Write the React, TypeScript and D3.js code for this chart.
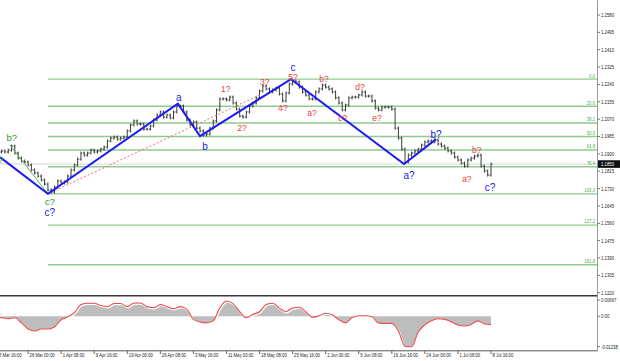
import React from "react";
import * as d3 from "d3";

// closes, one every ~2.6 H4 bars (10 per time label)
const closes = [
  1.1899, 1.1909, 1.1914, 1.1909, 1.1918, 1.1938, 1.1904, 1.1879, 1.1865, 1.186,
  1.1845, 1.1821, 1.1806, 1.1791, 1.1772, 1.1752, 1.1723, 1.1713, 1.1737, 1.1767,
  1.1757, 1.1762, 1.1791, 1.1821, 1.1845, 1.1874, 1.1904, 1.1894, 1.1904, 1.1918,
  1.1909, 1.1914, 1.1923, 1.1933, 1.1963, 1.1977, 1.1982, 1.1972, 1.1977, 1.1982,
  1.2012, 1.2041, 1.2061, 1.2046, 1.2046, 1.2021, 1.2021, 1.2036, 1.2066, 1.209,
  1.2105, 1.208, 1.209, 1.2076, 1.2105, 1.2134, 1.2134, 1.2105, 1.2066, 1.2041,
  1.2056, 1.2026, 1.2012, 1.1992, 1.1997, 1.2026, 1.2061, 1.2115, 1.2169, 1.2169,
  1.2164, 1.2178, 1.2149, 1.2119, 1.2085, 1.208, 1.2105, 1.2134, 1.2149, 1.2174,
  1.2208, 1.2232, 1.2218, 1.2203, 1.2213, 1.2222, 1.2193, 1.2159, 1.2198, 1.2242,
  1.2257, 1.2252, 1.2227, 1.2203, 1.2188, 1.2169, 1.2169, 1.2203, 1.2218, 1.2237,
  1.2227, 1.2218, 1.2203, 1.2174, 1.2149, 1.2115, 1.2139, 1.2174, 1.2178, 1.2178,
  1.2188, 1.2203, 1.2183, 1.2183, 1.2159, 1.2124, 1.2115, 1.2129, 1.2129, 1.2129,
  1.2119, 1.2026, 1.1977, 1.1923, 1.186, 1.1894, 1.1904, 1.1914, 1.1923, 1.1943,
  1.1958, 1.1963, 1.1958, 1.1968, 1.1948, 1.1938, 1.1928, 1.1914, 1.1904, 1.1884,
  1.187, 1.1855, 1.184, 1.187, 1.1879, 1.1889, 1.1894, 1.184, 1.1816, 1.1796,
  1.185,
];

// oscillator, one value every 2 points
const oscValues = [
  -0.00042, -0.00063, -0.00104, -0.00063, -0.00271, -0.00521, -0.00605, -0.00521, -0.00521, -0.00438,
  -0.00146, -0.00021, 0.00146, 0.0048, 0.00534, 0.00534, 0.00438, 0.00396, 0.00521, 0.00521,
  0.00396, 0.00542, 0.00542, 0.00396, 0.00354, 0.0048, 0.00396, 0.00313, 0.00396, 0.00292,
  -0.00125, -0.00229, -0.00271, -0.00188, 0.00354, 0.00626, 0.00521, 0.00188, -0.00063, 0.00083,
  0.00188, 0.0048, 0.00534, 0.00334, 0.00188, 0.00342, 0.00367, 0.00188, -0.00042, 0.00021,
  0.00125, 0.00063, -0.00146, -0.00271, -0.00063, 0.00021, 0.00021, -0.00021, -0.00271, -0.00292,
  -0.00292, -0.00605, -0.0123, -0.01251, -0.00646, -0.00354, -0.00188, -0.00104, -0.00125, -0.00229,
  -0.00354, -0.00396, -0.00334, -0.00188, -0.00313, -0.00334,
];

const timeLabels = [
  "18 Mar 16:00", "26 Mar 00:00", "1 Apr 08:00", "9 Apr 16:00", "19 Apr 00:00",
  "26 Apr 08:00", "3 May 16:00", "11 May 00:00", "18 May 08:00", "25 May 16:00",
  "2 Jun 00:00", "9 Jun 08:00", "16 Jun 16:00", "24 Jun 00:00", "1 Jul 08:00", "8 Jul 16:00",
];

const priceTicks = [
  1.258, 1.2495, 1.241, 1.2325, 1.224, 1.2155, 1.207, 1.1985, 1.19,
  1.1815, 1.173, 1.1645, 1.156, 1.1475, 1.139, 1.1305, 1.122,
];
const oscTicks = [0.00667, 0, -0.01238];
const oscTickLabels = ["0.00667", "0.00", "-0.01238"];

const fibHigh = 1.2266;
const fibLow = 1.1704;
const fibStart = 16;
const fibLevels = [0, 23.6, 38.2, 50, 61.8, 76.4, 100, 127.2, 161.8];
const lastPrice = 1.185;

// wave pivots [index, price]
const blueWave = [[1.5, 1.1884], [16, 1.1704], [55.3, 1.2146], [62, 1.1987], [89.5, 1.2266], [123.7, 1.185], [133.4, 1.1972]];
const greenWave = [[4.5, 1.1943], [16, 1.1704]];
const redDotted = [[16, 1.1704], [80.7, 1.2193]];

// labels [text, index, price]
const blueLabels = [["a", 55.6, 1.2178], ["b", 63.5, 1.1938], ["c", 90.1, 1.2325], ["a?", 125.2, 1.1796], ["b?", 133.4, 1.1997], ["c?", 149.7, 1.1737], ["c?", 16.6, 1.1615]];
const greenLabels = [["b?", 5.1, 1.1977], ["c?", 16.6, 1.1664], ["a?", 1.0, 1.187]];
const redLabels = [
  ["1?", 69.8, 1.2218], ["2?", 74.7, 1.2026], ["3?", 81.6, 1.2252], ["4?", 87.1, 1.2124], ["5?", 90.1, 1.2276],
  ["a?", 95.9, 1.21], ["b?", 99.5, 1.2267], ["c?", 105.2, 1.2075], ["d?", 110.4, 1.2227], ["e?", 115.5, 1.2075],
  ["a?", 142.7, 1.1777], ["b?", 145.7, 1.1918],
];

const W = 620;
const H = 361;
const axisX = 597.5;
const font = "Liberation Sans, Arial, sans-serif";

const Small = ({ x, y, anchor = "start", fill = "#222", children }: any) => (
  <text
    transform={`translate(${x},${y}) scale(0.76,1)`}
    textAnchor={anchor}
    fontSize={5.6}
    fontFamily={font}
    fill={fill}
  >
    {children}
  </text>
);

export default function App() {
  const x = d3.scaleLinear().domain([0, 150]).range([-5, 491]);
  const y = d3.scaleLinear().domain([1.122, 1.258]).range([292.7, 15]);
  const yo = d3.scaleLinear().domain([-0.01238, 0.00667]).range([346.5, 300]);

  const line = d3.line<number[]>().x(d => x(d[0])).y(d => y(d[1]));
  const oscLine = d3
    .line<number>()
    .x((d, i) => x(i * 2))
    .y(d => yo(d))
    .curve(d3.curveMonotoneX);
  const oscArea = d3
    .area<number>()
    .x((d, i) => x(i * 2))
    .y0(yo(0))
    .y1(d => yo(d))
    .curve(d3.curveMonotoneX);

  const range = fibHigh - fibLow;

  return (
    <svg
      width={W}
      height={H}
      viewBox={`0 0 ${W} ${H}`}
      style={{ position: "absolute", left: 0, top: 0, background: "#fff" }}
    >
      <defs>
        <clipPath id="main">
          <rect x={0} y={0} width={axisX} height={295} />
        </clipPath>
        <clipPath id="osc">
          <rect x={0} y={297} width={axisX} height={53} />
        </clipPath>
      </defs>

      <g clipPath="url(#main)">
        {/* bid line */}
        <line x1={0} x2={axisX} y1={y(lastPrice)} y2={y(lastPrice)} stroke="#d4d4d4" strokeWidth={1} />

        {/* fibonacci levels */}
        {fibLevels.map(l => {
          const yy = y(fibHigh - (l / 100) * range);
          return (
            <g key={l}>
              <line x1={x(fibStart)} x2={axisX} y1={yy} y2={yy} stroke="#8fcb8f" strokeWidth={1.4} />
              <Small x={595} y={yy - 1.6} anchor="end" fill="#4fa84f">
                {l.toFixed(1)}
              </Small>
            </g>
          );
        })}

        {/* price bars */}
        <g stroke="#3c3c3c" strokeWidth={1}>
          {closes.map((c, i) => {
            if (i === 0) return null;
            const o = closes[i - 1];
            const xx = x(i);
            return (
              <g key={i}>
                <line x1={xx} x2={xx} y1={y(Math.max(o, c)) - 1.5} y2={y(Math.min(o, c)) + 1.5} />
                <line x1={xx - 1.3} x2={xx} y1={y(o)} y2={y(o)} />
                <line x1={xx} x2={xx + 1.3} y1={y(c)} y2={y(c)} />
              </g>
            );
          })}
        </g>

        {/* wave lines */}
        <path d={line(redDotted as any) || ""} fill="none" stroke="#f07070" strokeWidth={1} strokeDasharray="2,2" />
        <path d={line(greenWave as any) || ""} fill="none" stroke="#5cb85c" strokeWidth={1} />
        <path d={line(blueWave as any) || ""} fill="none" stroke="#1c1cf0" strokeWidth={2} />

        {blueLabels.map(([t, i, p], k) => (
          <text key={"b" + k} x={x(i as number)} y={y(p as number)} dy="0.35em" textAnchor="middle" fontSize={10} fontFamily={font} fill="#2020e8">
            {t}
          </text>
        ))}
        {greenLabels.map(([t, i, p], k) => (
          <text key={"g" + k} x={x(i as number)} y={y(p as number)} dy="0.35em" textAnchor="middle" fontSize={9.5} fontFamily={font} fill="#2e9a2e">
            {t}
          </text>
        ))}
        {redLabels.map(([t, i, p], k) => (
          <text key={"r" + k} x={x(i as number)} y={y(p as number)} dy="0.35em" textAnchor="middle" fontSize={8.5} fontFamily={font} fill="#f03c3c">
            {t}
          </text>
        ))}
      </g>

      {/* oscillator */}
      <g clipPath="url(#osc)">
        <path d={oscArea(oscValues) || ""} fill="#bdbdbd" />
        <path d={oscLine(oscValues) || ""} fill="none" stroke="#fff" strokeWidth={1.4} transform="translate(0.8,1.1)" />
        <path d={oscLine(oscValues) || ""} fill="none" stroke="#f05050" strokeWidth={1.1} />
      </g>

      {/* frame */}
      <line x1={0} x2={axisX} y1={295.8} y2={295.8} stroke="#3a3a3a" strokeWidth={1.6} />
      <line x1={0} x2={axisX} y1={350.8} y2={350.8} stroke="#555" strokeWidth={1} />
      <line x1={axisX} x2={axisX} y1={0} y2={351} stroke="#9a9a9a" strokeWidth={1} />

      {/* price axis */}
      {priceTicks.map(p => (
        <g key={p}>
          <line x1={axisX} x2={axisX + 2.5} y1={y(p)} y2={y(p)} stroke="#777" />
          <Small x={601} y={y(p) + 2}>{p.toFixed(4)}</Small>
        </g>
      ))}
      <rect x={598} y={y(lastPrice) - 3.8} width={22} height={7.6} fill="#111" />
      <Small x={601} y={y(lastPrice) + 2} fill="#fff">{lastPrice.toFixed(4)}</Small>

      {/* oscillator axis */}
      {oscTicks.map((v, k) => (
        <g key={v}>
          <line x1={axisX} x2={axisX + 2.5} y1={yo(v)} y2={yo(v)} stroke="#777" />
          <Small x={601} y={yo(v) + 2}>{oscTickLabels[k]}</Small>
        </g>
      ))}

      {/* time axis */}
      {timeLabels.map((t, k) => (
        <g key={t}>
          <line x1={x(k * 10)} x2={x(k * 10)} y1={351} y2={354} stroke="#666" />
          <Small x={x(k * 10) + 1.5} y={357}>{t}</Small>
        </g>
      ))}
    </svg>
  );
}
